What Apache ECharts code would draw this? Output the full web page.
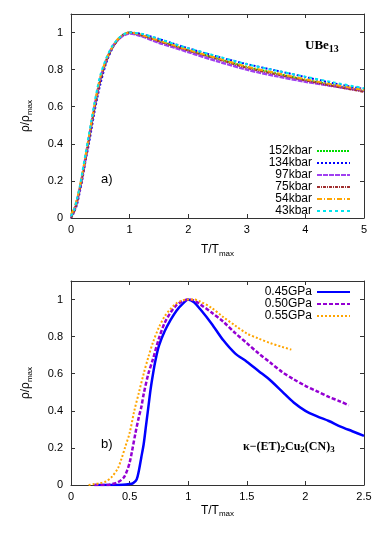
<!DOCTYPE html>
<html>
<head>
<meta charset="utf-8">
<script src="https://cdn.jsdelivr.net/npm/echarts@6/dist/echarts.min.js"></script>
<style>
html,body{margin:0;padding:0;background:#fff;}
#main{width:382px;height:534px;}
</style>
</head>
<body>
<div id="main"></div>
<script>
// panel a) UBe13
var topX=[0,0.05,0.1,0.15,0.2,0.25,0.3,0.35,0.4,0.45,0.5,0.6,0.7,0.8,0.9,1.0,1.1,1.25,1.5,1.75,2,2.5,3,3.5,4,4.5,5];
var kbar152=[0.01,0.04,0.09,0.16,0.24,0.33,0.41,0.50,0.59,0.67,0.74,0.845,0.915,0.96,0.99,1.0,0.995,0.98,0.955,0.93,0.905,0.86,0.815,0.78,0.745,0.715,0.685];
var kbar134=[0.0,0.03,0.07,0.14,0.22,0.31,0.39,0.48,0.57,0.65,0.72,0.835,0.91,0.96,0.99,1.0,0.998,0.988,0.965,0.94,0.915,0.87,0.83,0.795,0.76,0.725,0.695];
var kbar97=[0.01,0.04,0.09,0.16,0.24,0.33,0.42,0.51,0.60,0.68,0.75,0.85,0.92,0.96,0.985,0.995,0.99,0.975,0.945,0.92,0.895,0.845,0.80,0.765,0.735,0.71,0.685];
var kbar75=[0.0,0.03,0.08,0.15,0.23,0.32,0.41,0.50,0.59,0.67,0.74,0.845,0.915,0.96,0.99,1.0,0.995,0.98,0.953,0.928,0.903,0.857,0.81,0.775,0.742,0.71,0.68];
var kbar54=[0.02,0.05,0.10,0.17,0.25,0.34,0.43,0.52,0.61,0.69,0.76,0.855,0.92,0.965,0.99,1.0,0.996,0.982,0.957,0.932,0.907,0.862,0.816,0.782,0.748,0.718,0.69];
var kbar43=[0.01,0.04,0.10,0.17,0.26,0.35,0.44,0.53,0.62,0.70,0.77,0.86,0.925,0.965,0.99,1.0,0.998,0.99,0.966,0.94,0.916,0.872,0.83,0.795,0.762,0.73,0.70];

// panel b) kappa-(ET)2Cu2(CN)3
var gpa045X=[0.2,0.3,0.4,0.5,0.53,0.56,0.58,0.6,0.62,0.64,0.66,0.68,0.7,0.72,0.75,0.8,0.85,0.9,0.95,1.0,1.05,1.1,1.2,1.3,1.4,1.5,1.6,1.7,1.8,1.9,2.0,2.1,2.2,2.3,2.4,2.5];
var gpa045Y=[0,0,0,0.005,0.01,0.03,0.08,0.15,0.22,0.32,0.42,0.52,0.6,0.67,0.75,0.83,0.89,0.94,0.975,1.0,0.985,0.95,0.87,0.78,0.71,0.665,0.615,0.565,0.505,0.445,0.40,0.37,0.345,0.315,0.29,0.265];
var gpa050X=[0.2,0.3,0.35,0.4,0.45,0.48,0.5,0.52,0.55,0.58,0.6,0.62,0.66,0.7,0.75,0.8,0.85,0.9,0.95,1.0,1.05,1.1,1.2,1.3,1.4,1.5,1.6,1.7,1.8,1.9,2.0,2.1,2.2,2.3,2.37];
var gpa050Y=[0,0,0.005,0.015,0.04,0.08,0.12,0.18,0.28,0.37,0.42,0.49,0.6,0.68,0.79,0.875,0.93,0.97,0.99,1.0,0.995,0.975,0.93,0.88,0.82,0.765,0.71,0.66,0.61,0.57,0.535,0.505,0.475,0.45,0.43];
var gpa055X=[0.15,0.2,0.25,0.3,0.35,0.4,0.43,0.46,0.5,0.54,0.58,0.62,0.66,0.7,0.75,0.8,0.85,0.9,0.95,1.0,1.05,1.1,1.2,1.3,1.4,1.5,1.6,1.7,1.8,1.88];
var gpa055Y=[0,0.005,0.01,0.02,0.045,0.09,0.14,0.2,0.28,0.4,0.5,0.6,0.69,0.77,0.85,0.91,0.95,0.98,0.995,1.0,1.0,0.99,0.955,0.905,0.86,0.817,0.79,0.765,0.745,0.73];

var topTicksX=[0,5,1];
var botTicksX=[0,2.5,0.5];
var ticksY=[0,1.1,0.2];

function zip(xs,ys){
    var out=[];
    for(var i=0;i<xs.length;i++){
        out.push([xs[i],ys[i]]);
    }
    return out;
}

var myChart=echarts.init(document.getElementById('main'));

var font='"Liberation Sans", Arial, sans-serif';
var rhoName='{a|ρ/ρ}{s|max}';
var tName='{a|T/T}{s|max}';
var nameRich={
    a:{fontSize:12,fontFamily:font,color:'#000',lineHeight:14},
    s:{fontSize:8,fontFamily:font,color:'#000',lineHeight:14,padding:[7,0,0,0]}
};

function xAx(grid,pos,t,gap){
    return {
        type:'value',gridIndex:grid,position:pos,
        min:t[0],max:t[1],interval:t[2],
        axisLine:{show:true,onZero:false,lineStyle:{color:'#333',width:1}},
        axisTick:{show:true,inside:true,length:4,lineStyle:{color:'#333'}},
        axisLabel:{show:pos==='bottom',color:'#000',fontSize:11,fontFamily:font,margin:6},
        splitLine:{show:false},
        name:gap?tName:'',nameLocation:'middle',nameGap:gap||0,
        nameTextStyle:{rich:nameRich}
    };
}
function yAx(grid,pos,withName){
    return {
        type:'value',gridIndex:grid,position:pos,
        min:ticksY[0],max:ticksY[1],interval:ticksY[2],
        axisLine:{show:true,onZero:false,lineStyle:{color:'#333',width:1}},
        axisTick:{show:true,inside:true,length:4,lineStyle:{color:'#333'}},
        axisLabel:{show:pos==='left',showMaxLabel:false,color:'#000',fontSize:11,fontFamily:font,margin:8},
        splitLine:{show:false},
        name:withName?rhoName:'',nameLocation:'middle',nameGap:38,nameRotate:90,
        nameTextStyle:{rich:nameRich}
    };
}

function line(name,data,xi,color,dash,width){
    return {
        name:name,type:'line',xAxisIndex:xi,yAxisIndex:xi,
        data:data,showSymbol:false,symbol:'none',smooth:0.3,
        lineStyle:{color:color,width:width||2,type:dash},
        itemStyle:{color:color},
        animation:false
    };
}

var legendBase={
    orient:'vertical',right:31,align:'right',padding:0,
    itemWidth:33,itemHeight:8,itemGap:0,
    itemStyle:{opacity:0},
    textStyle:{fontSize:12,fontFamily:font,color:'#000',lineHeight:11.5}
};

var option={
    backgroundColor:'#fff',
    animation:false,
    grid:[
        {left:71,top:14,width:293,height:204},
        {left:71,top:281,width:293,height:204}
    ],
    xAxis:[xAx(0,'bottom',topTicksX,25),xAx(1,'bottom',botTicksX,17),xAx(0,'top',topTicksX,0),xAx(1,'top',botTicksX,0)],
    yAxis:[yAx(0,'left',true),yAx(1,'left',true),yAx(0,'right',false),yAx(1,'right',false)],
    legend:[
        Object.assign({data:['152kbar','134kbar','97kbar','75kbar','54kbar','43kbar'],top:145},legendBase),
        Object.assign({data:['0.45GPa','0.50GPa','0.55GPa'],top:286},legendBase)
    ],
    graphic:[
        {type:'text',left:305,top:38,style:{
            text:'{b|UBe}{s|13}',
            rich:{
                b:{fontSize:13,fontWeight:'bold',fontFamily:'"Liberation Serif", serif',fill:'#000',lineHeight:16},
                s:{fontSize:10,fontWeight:'bold',fontFamily:'"Liberation Serif", serif',fill:'#000',lineHeight:16,padding:[6,0,0,0]}
            }}},
        {type:'text',left:101,top:173,style:{text:'a)',fontSize:13,fontFamily:font,fill:'#000'}},
        {type:'text',left:101,top:438,style:{text:'b)',fontSize:13,fontFamily:font,fill:'#000'}},
        {type:'text',left:243,top:439,style:{
            text:'{b|κ−(ET)}{s|2}{b|Cu}{s|2}{b|(CN)}{s|3}',
            rich:{
                b:{fontSize:12,fontWeight:'bold',fontFamily:'"Liberation Serif", serif',fill:'#000',lineHeight:15},
                s:{fontSize:9,fontWeight:'bold',fontFamily:'"Liberation Serif", serif',fill:'#000',lineHeight:15,padding:[6,0,0,0]}
            }}}
    ],
    series:[
        line('152kbar',zip(topX,kbar152),0,'#00dd00',[2,1],2),
        line('134kbar',zip(topX,kbar134),0,'#0000ff',[2,2],2),
        line('97kbar',zip(topX,kbar97),0,'#a040f0',[5,1],2.5),
        line('75kbar',zip(topX,kbar75),0,'#a03030',[3,1,1,1],2),
        line('54kbar',zip(topX,kbar54),0,'#ffa500',[5,2,1,2],2),
        line('43kbar',zip(topX,kbar43),0,'#00e5ee',[3,3],2),
        line('0.45GPa',zip(gpa045X,gpa045Y),1,'#0000ff','solid',2.5),
        line('0.50GPa',zip(gpa050X,gpa050Y),1,'#9400d3',[4,2],2.5),
        line('0.55GPa',zip(gpa055X,gpa055Y),1,'#ffa500',[2,2],2)
    ]
};

myChart.setOption(option);
</script>
</body>
</html>
